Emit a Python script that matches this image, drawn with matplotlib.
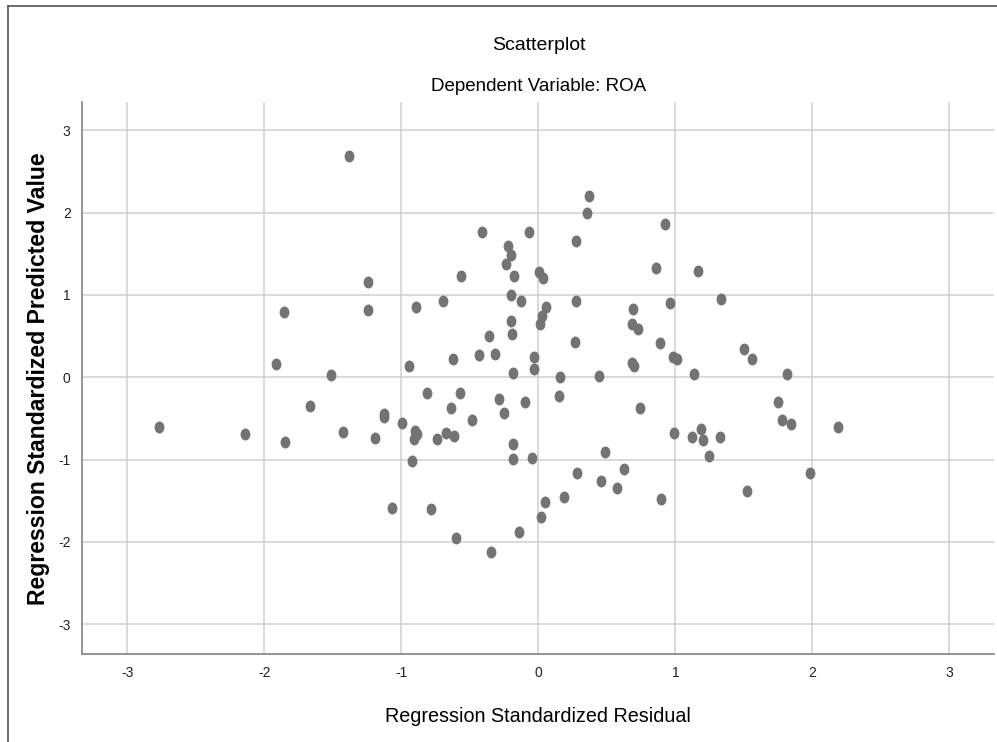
import numpy as np
import matplotlib
matplotlib.use("Agg")
import matplotlib.pyplot as plt
from matplotlib.path import Path
from matplotlib.transforms import Affine2D
from matplotlib.lines import Line2D

# standardized residuals (x) and standardized predicted values (y)
resid = [-1.382, -0.409, -0.066, -0.223, -0.199, -0.236, -0.564, -0.175, 0.005, 0.034,
         -1.241, -1.854, -1.245, -0.893, -0.696, -0.199, -0.129, -0.199, -0.192, -0.357,
         0.054, 0.025, 0.012, -1.917, -1.515, -0.946, -0.620, -0.431, -0.316, -0.187,
         -0.034, -0.034, 0.370, 0.355, 0.275, 0.925, 0.857, 1.166, 0.273, 0.691,
         0.682, 0.726, 0.964, 1.331, 0.270, 0.888, 1.499, 1.558, 0.986, 1.012,
         0.682, 0.701, 0.161, 0.441, 1.137, 1.813, -2.769, -2.141, -1.847, -1.664,
         -1.428, -1.192, -1.126, -1.126, -0.995, -0.900, -0.883, -0.909, -0.810, -0.737,
         -0.672, -0.615, -0.635, -0.574, -0.486, -0.289, -0.248, -0.097, -0.187, -0.182,
         -0.044, -0.920, -1.068, -0.786, -0.599, -0.345, -0.139, 0.022, 0.051, 0.149,
         0.740, 0.993, 1.124, 1.190, 1.202, 1.326, 1.244, 1.747, 1.777, 1.842,
         2.190, 1.985, 1.523, 0.489, 0.285, 0.623, 0.458, 0.577, 0.185, 0.898]
pred = [2.690, 1.766, 1.766, 1.595, 1.482, 1.380, 1.227, 1.231, 1.283, 1.203,
        1.154, 0.793, 0.822, 0.854, 0.931, 1.000, 0.927, 0.684, 0.522, 0.506,
        0.850, 0.745, 0.644, 0.165, 0.028, 0.137, 0.219, 0.267, 0.283, 0.049,
        0.247, 0.100, 2.195, 1.988, 1.652, 1.855, 1.324, 1.288, 0.923, 0.834,
        0.644, 0.591, 0.903, 0.948, 0.429, 0.413, 0.344, 0.219, 0.247, 0.226,
        0.170, 0.141, 0.007, 0.019, 0.036, 0.040, -0.608, -0.689, -0.782, -0.353,
        -0.661, -0.738, -0.446, -0.479, -0.559, -0.652, -0.693, -0.746, -0.187, -0.750,
        -0.680, -0.713, -0.373, -0.195, -0.515, -0.264, -0.434, -0.304, -0.810, -0.997,
        -0.977, -1.013, -1.584, -1.596, -1.957, -2.119, -1.876, -1.694, -1.519, -0.227,
        -0.373, -0.673, -0.725, -0.624, -0.758, -0.725, -0.960, -0.296, -0.515, -0.567,
        -0.600, -1.159, -1.385, -0.904, -1.163, -1.114, -1.256, -1.341, -1.458, -1.482]

ticks = [-3, -2, -1, 0, 1, 2, 3]

plt.rcParams['font.family'] = ['Liberation Sans', 'DejaVu Sans']
plt.rcParams['axes.unicode_minus'] = False

fig = plt.figure(figsize=(9.97, 7.42), dpi=100)
ax = fig.add_axes([0.082, 0.118, 0.915, 0.744])

# SPSS dots are a bit taller than wide
dot = Path.unit_circle().transformed(Affine2D().scale(0.82, 1.0))
ax.scatter(resid, pred, s=74, marker=dot, color='#737373', linewidths=0, zorder=3)

ax.set_xlim(-3.333, 3.326)
ax.set_ylim(-3.366, 3.337)
ax.set_xticks(ticks)
ax.set_yticks(ticks)
ax.grid(True, color='#cfcfcf', linewidth=1.1)
ax.set_axisbelow(True)
ax.tick_params(length=0, labelsize=10, colors='#222222', pad=8)

for s in ['top', 'right']:
    ax.spines[s].set_visible(False)
for s in ['left', 'bottom']:
    ax.spines[s].set_color('#8c8c8c')
    ax.spines[s].set_linewidth(1.3)

fig.text(0.54, 0.939, 'Scatterplot', ha='center', va='center', fontsize=14)
fig.text(0.54, 0.883, 'Dependent Variable: ROA', ha='center', va='center', fontsize=13.5)
fig.text(0.54, 0.034, 'Regression Standardized Residual', ha='center', va='center', fontsize=14.2)
fig.text(0.039, 0.49, 'Regression Standardized Predicted Value', ha='center', va='center',
         rotation=90, fontsize=16.6, fontweight='bold')

# outer frame lines (left and top)
fig.add_artist(Line2D([0.0083, 0.0083], [0.0, 0.992], color='#555555', linewidth=1.2))
fig.add_artist(Line2D([0.0083, 1.0], [0.992, 0.992], color='#555555', linewidth=1.2))

fig.savefig('out.png', dpi=100)
